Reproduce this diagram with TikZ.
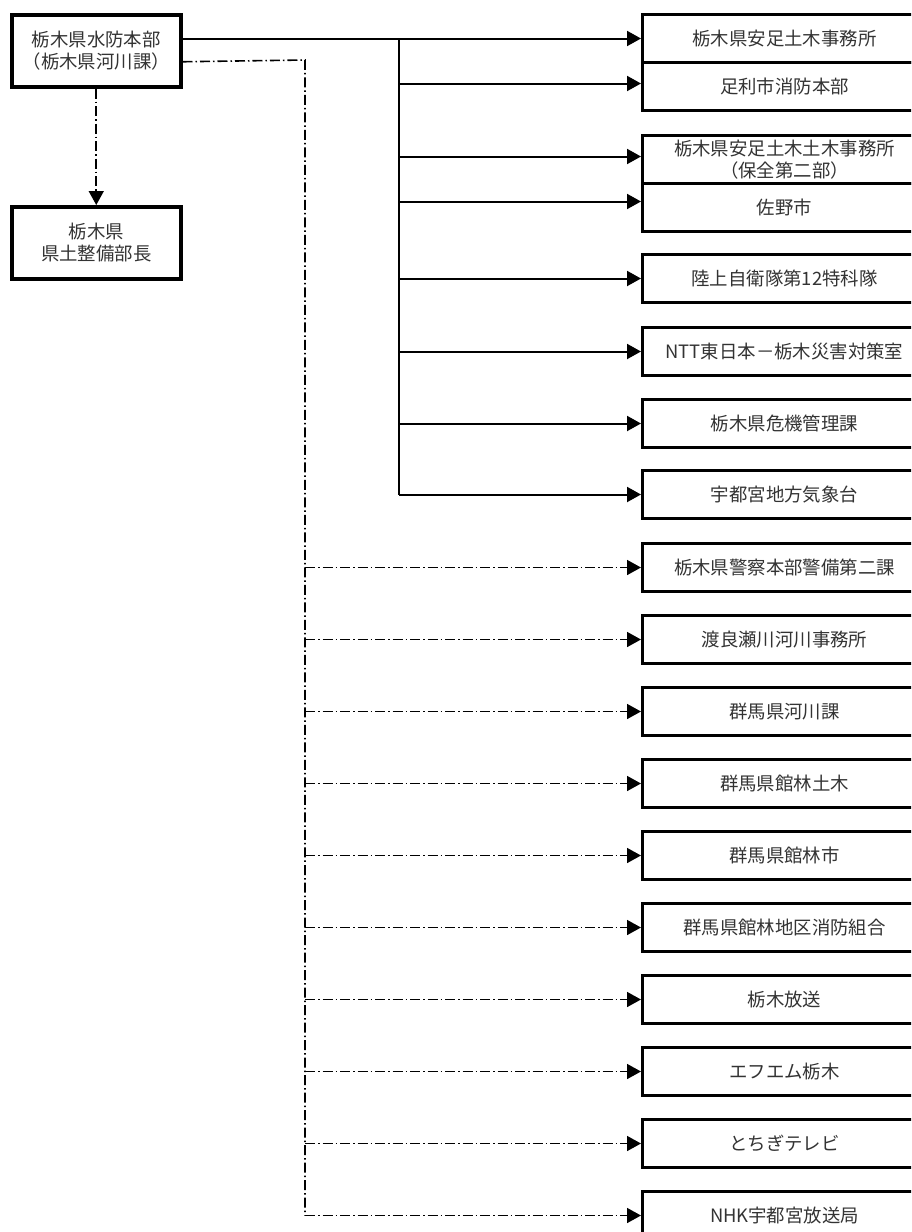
\documentclass[tikz,border=0pt]{standalone}
\usepackage{fontspec}
\setmainfont{Noto Sans CJK JP}
\usetikzlibrary{arrows.meta}
\begin{document}
\begin{tikzpicture}[x=1pt,y=-1pt,
  txt/.style={font=\fontsize{18.4}{21.5}\selectfont, text=black!80, align=center, inner sep=0pt},
  rbox/.style={txt, draw=black, line width=3pt, minimum width=284pt, minimum height=48pt, anchor=north west},
  lbox/.style={txt, draw=black, line width=3.5pt, minimum width=169pt, anchor=north west},
  sol/.style={line width=2pt, -{Triangle[length=14pt,width=15pt]}},
  dd/.style={line width=1.6pt, dash pattern=on 10pt off 3pt on 1.5pt off 3pt, -{Triangle[length=14pt,width=15pt]}},
  ddline/.style={line width=1.6pt, dash pattern=on 10pt off 3pt on 1.5pt off 3pt}]
\useasboundingbox (0,0) rectangle (911,1232);
\clip (0,0) rectangle (911,1232);
\fill[white] (0,0) rectangle (911,1232);

% left boxes
\node[lbox, minimum height=72pt] (tl) at (10,13) {栃木県水防本部\\（栃木県河川課）};
\node[lbox, minimum height=72pt] (lb) at (10,205) {栃木県\\県土整備部長};

% right boxes (solid group)
\node[rbox] (b1) at (641,13) {栃木県安足土木事務所};
\node[rbox] (b2) at (641,61) {足利市消防本部};
\node[rbox] (b3) at (641,134) {栃木県安足土木土木事務所\\（保全第二部）};
\node[rbox] (b4) at (641,182) {佐野市};
\node[rbox] (b5) at (641,253) {陸上自衛隊第12特科隊};
\node[rbox] (b6) at (641,326) {NTT東日本－栃木災害対策室};
\node[rbox] (b7) at (641,398) {栃木県危機管理課};
\node[rbox] (b8) at (641,469) {宇都宮地方気象台};

% right boxes (dash-dot group)
\node[rbox] (n1) at (641,542) {栃木県警察本部警備第二課};
\node[rbox] (n2) at (641,614) {渡良瀬川河川事務所};
\node[rbox] (n3) at (641,686) {群馬県河川課};
\node[rbox] (n4) at (641,758) {群馬県館林土木};
\node[rbox] (n5) at (641,830) {群馬県館林市};
\node[rbox] (n6) at (641,902) {群馬県館林地区消防組合};
\node[rbox] (n7) at (641,974) {栃木放送};
\node[rbox] (n8) at (641,1046) {エフエム栃木};
\node[rbox] (n9) at (641,1118) {とちぎテレビ};
\node[rbox] (n10) at (641,1190) {NHK宇都宮放送局};

% solid connectors
\coordinate (st) at (399,38);
\coordinate (sb) at (399,495);
\draw[sol] (tl.east |- b1.west) -- (b1.west);
\draw[line width=2pt] (st) -- (sb);
\foreach \b/\s in {b2/3pt,b3/3pt,b4/6pt,b5/0pt,b6/0pt,b7/0pt,b8/0pt}
  \draw[sol] ([yshift=\s]st |- \b.west) -- ([yshift=\s]\b.west);

% dash-dot connectors
\coordinate (dc) at (305,60);
\draw[ddline] ([yshift=-11pt]tl.east) -- (dc) -- (dc |- n10.west);
\foreach \n in {n1,n2,n3,n4,n5,n6,n7,n8,n9,n10}
  \draw[dd] (dc |- \n.west) -- (\n.west);
\draw[dd] (tl.south) -- (lb.north);
\end{tikzpicture}
\end{document}
